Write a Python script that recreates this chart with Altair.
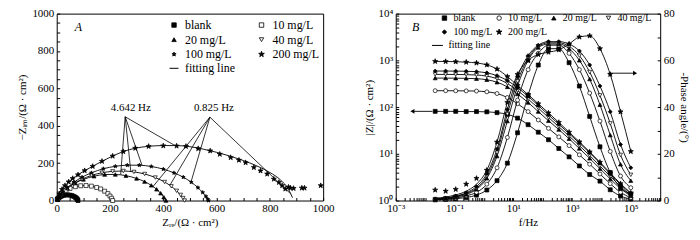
import altair as alt
import pandas as pd

FONT = "Liberation Serif"
SERIES = ["blank", "10 mg/L", "20 mg/L", "40 mg/L", "100 mg/L", "200 mg/L"]

STAR = ("M0,-1.35L0.317,-0.437L1.284,-0.417L0.513,0.167L0.794,1.092L0,0.54L-0.794,1.092"
        "L-0.513,0.167L-1.284,-0.417L-0.317,-0.437Z")
STAR_S = ("M0,-1L0.235,-0.324L0.951,-0.309L0.38,0.124L0.588,0.809L0,0.4L-0.588,0.809"
          "L-0.38,0.124L-0.951,-0.309L-0.235,-0.324Z")
SHAPES_A = ["square", "square", "triangle-up", "triangle-down", STAR_S, STAR]
SHAPES_B = ["square", "circle", "triangle-up", "triangle-down", "diamond", STAR]
FILLS = ["black", "white", "black", "white", "black", "black"]
STROKES = ["black"] * 6

# ---------------- Nyquist (panel A) ----------------
NYQ_BLANK_RE = [2, 5, 9, 14, 20, 27, 35, 43, 51, 58, 64, 69, 73, 76, 78, 80]
NYQ_BLANK_IM = [5, 11, 16, 21, 25, 28, 30, 30, 28.5, 26, 22, 18, 14, 9, 5, 0]
NYQ_10_RE = [3, 10, 20, 35, 50, 70, 90, 110, 130, 150, 165, 180, 192, 200, 206, 210]
NYQ_10_IM = [9, 24, 39, 54.5, 65, 74, 79, 80, 77, 70, 62, 50, 37, 24, 12, 0]
NYQ_20_RE = [3, 10, 20, 40, 70, 100, 140, 180, 220, 260, 300, 330, 355, 375, 390, 402, 410]
NYQ_20_IM = [7, 22, 39, 65.5, 94, 113, 130, 139, 139.5, 133, 118, 101, 81, 60, 39, 18, 0]
NYQ_40_RE = [3, 10, 22, 40, 65, 95, 130, 170, 210, 250, 290, 330, 370, 405, 430, 450, 465, 474, 480]
NYQ_40_IM = [7, 21, 41, 65, 91, 114, 134, 148.5, 156, 158, 153, 142, 123, 99, 76, 52, 30, 13, 0]
NYQ_100_RE = [3, 10, 22, 40, 65, 95, 130, 175, 220, 265, 310, 355, 400, 440, 475, 505, 530,
              548, 560, 567, 570]
NYQ_100_IM = [7, 22, 43, 69, 98, 125, 148, 170, 183, 189, 189, 182, 168, 148, 125, 98, 69,
              43, 22, 7, 0]
NYQ_200_RE = [3, 10, 20, 31, 45, 60, 80, 105, 135, 170, 210, 250, 295, 345, 400, 450, 485,
              531, 576, 612, 653, 684, 709, 740, 765, 790, 815, 834, 846, 858, 870, 877,
              889, 920, 930, 991]
NYQ_200_IM = [12, 35, 60, 80, 100, 118, 138, 160, 183, 210, 238, 262, 280, 290, 293, 292,
              290, 278, 266, 248, 230, 216, 203, 177, 159, 142, 115, 97, 80, 62, 72, 67,
              65, 67, 67, 80]
FIT_200_RE = [0, 3, 10, 20, 31, 45, 60, 80, 105, 135, 170, 210, 250, 295, 345, 400, 450,
              500, 550, 600, 650, 700, 750, 800, 840, 870, 885]
FIT_200_IM = [0, 12, 35, 60, 80, 100, 118, 138, 160, 183, 210, 238, 262, 280, 290, 294,
              294, 288, 275, 258, 238, 214, 186, 150, 110, 60, 15]

# annotation lines (apex -> points on curves)
ANN1_APEX = [257, 448]
ANN1_END_RE = [240, 278, 320, 445]
ANN1_END_IM = [139, 155, 189, 293]
ANN2_APEX = [575, 446]
ANN2_END_RE = [361, 425, 504, 878]
ANN2_END_IM = [74, 82, 99, 36]
ANN_TEXT = ["4.642 Hz", "0.825 Hz"]
ANN_TEXT_RE = [278, 590]
ANN_TEXT_IM = [497, 497]

# ---------------- Bode (panel B) ----------------
FREQ = [0.022, 0.05, 0.11, 0.25, 0.56, 1.26, 2.8, 6.3, 14, 32, 71, 158, 355, 794, 1778,
        3981, 8913, 19953, 44668, 100000]
Z_BLANK = [81, 81, 81, 80, 80, 79, 76, 70, 58, 42, 29, 20, 13, 8.6, 5.5, 3.6, 2.6, 1.7, 1.25, 1.08]
Z_10 = [224, 224, 223, 222, 220, 212, 195, 160, 118, 80, 53, 35, 23, 15, 9.5, 6, 3.7, 2.3, 1.5, 1.15]
Z_20 = [417, 417, 415, 412, 405, 385, 340, 270, 190, 125, 80, 51, 33, 21, 13, 8, 4.8, 2.9, 1.8, 1.25]
Z_40 = [500, 500, 498, 495, 485, 460, 405, 320, 225, 148, 95, 60, 38, 24, 15, 9.2, 5.5, 3.3, 2.0, 1.3]
Z_100 = [590, 590, 588, 584, 572, 540, 470, 370, 260, 170, 108, 68, 43, 27, 17, 10.5, 6.3, 3.7, 2.2, 1.4]
Z_200 = [950, 945, 935, 915, 880, 800, 650, 450, 290, 185, 118, 75, 47, 29, 18, 11, 6.6, 3.9, 2.3, 1.45]

PH_BLANK = [0.3, 0.5, 0.8, 1.3, 2.3, 4.5, 8.5, 16, 29, 45, 58, 65, 65, 59, 49, 36, 23, 12, 5.5, 2.8]
PH_10 = [0.4, 0.7, 1.1, 2, 3.5, 7, 14, 27, 43, 56, 63, 66.5, 66.5, 63, 56, 46, 34, 21, 10.5, 5.5]
PH_20 = [0.5, 0.9, 1.5, 2.6, 4.8, 9.5, 19, 34, 49, 60, 65.5, 67, 67, 65, 60, 52, 41, 28, 15.5, 8.5]
PH_40 = [0.6, 1.0, 1.7, 3, 5.3, 10.5, 20.5, 37, 51, 61, 66, 67.5, 67.5, 66, 62, 55, 45, 33, 19.5, 11]
PH_100 = [0.7, 1.1, 1.9, 3.3, 6, 11.5, 22, 39, 53, 62, 66.5, 68, 68, 67, 64, 58, 49, 38, 24, 14]
PH_200 = [1.0, 1.5, 2.4, 4, 7, 13, 25, 42, 54, 60, 62.5, 63.5, 64.5, 67, 70, 70.5, 65, 54, 38, 21]
PH_200_MARK = [4.5, 4.0, 4.8, 7.0, 9.5, 13, 25, 42, 54, 60, 62.5, 63.5, 64.5, 67, 70, 70.5, 65,
               54, 38, 21]

ARROW_Z_F = [0.0037, 0.0178]
ARROW_Z_V = [81, 81]
ARROW_P_F = [17000, 140000]
ARROW_P_V = [54.5, 54.5]

X_TICKS_A = list(range(0, 1001, 50))
Y_TICKS_A = list(range(0, 1001, 50))
F_TICKS = [m * 10.0 ** k for k in range(-3, 6) for m in range(1, 10)] + [1e6]
F_LABELS = {0.001: "10⁻³", 0.1: "10⁻¹", 10: "10¹", 1000: "10³", 100000: "10⁵"}
Z_TICKS = [m * 10.0 ** k for k in range(0, 4) for m in range(1, 10)] + [1e4]
Z_LABELS = {1: "10⁰", 10: "10¹", 100: "10²", 1000: "10³", 10000: "10⁴"}
P_TICKS = list(range(0, 81, 10))


def label_expr(mapping):
    expr = "''"
    for v, lab in sorted(mapping.items(), reverse=True):
        expr = f"(datum.value > {v * 0.999} && datum.value < {v * 1.001}) ? '{lab}' : {expr}"
    return expr


def long_df(pairs, xname, yname):
    rows = []
    for name, xs, ys in pairs:
        for a, b in zip(xs, ys):
            rows.append({"series": name, xname: a, yname: b})
    return pd.DataFrame(rows)


# ---- panel A data frames ----
nyq_pts = long_df([
    (SERIES[0], NYQ_BLANK_RE, NYQ_BLANK_IM), (SERIES[1], NYQ_10_RE, NYQ_10_IM),
    (SERIES[2], NYQ_20_RE, NYQ_20_IM), (SERIES[3], NYQ_40_RE, NYQ_40_IM),
    (SERIES[4], NYQ_100_RE, NYQ_100_IM), (SERIES[5], NYQ_200_RE, NYQ_200_IM)], "x", "y")
nyq_fit = long_df([
    (SERIES[0], NYQ_BLANK_RE, NYQ_BLANK_IM), (SERIES[1], NYQ_10_RE, NYQ_10_IM),
    (SERIES[2], NYQ_20_RE, NYQ_20_IM), (SERIES[3], NYQ_40_RE, NYQ_40_IM),
    (SERIES[4], NYQ_100_RE, NYQ_100_IM), (SERIES[5], FIT_200_RE, FIT_200_IM)], "x", "y")
nyq_fit["fit"] = "fitting line"

ann_rows = []
for i, (apex, ers, eis) in enumerate([(ANN1_APEX, ANN1_END_RE, ANN1_END_IM),
                                      (ANN2_APEX, ANN2_END_RE, ANN2_END_IM)]):
    for j, (a, b) in enumerate(zip(ers, eis)):
        seg = f"s{i}{j}"
        ann_rows.append({"seg": seg, "x": apex[0], "y": apex[1]})
        ann_rows.append({"seg": seg, "x": a, "y": b})
ann_df = pd.DataFrame(ann_rows)
ann_txt = pd.DataFrame({"x": ANN_TEXT_RE, "y": ANN_TEXT_IM, "t": ANN_TEXT})

axis_common = dict(offset=-3, tickSize=3, domain=False)

xA = alt.X("x:Q", scale=alt.Scale(domain=[0, 1000], nice=False),
           axis=alt.Axis(values=X_TICKS_A, format="d",
                         labelExpr="datum.value % 200 == 0 ? datum.label : ''",
                         title="Zᵣₑ/(Ω · cm²)", labelPadding=2, titlePadding=3,
                         **axis_common))
yA = alt.Y("y:Q", scale=alt.Scale(domain=[0, 1000], nice=False),
           axis=alt.Axis(values=Y_TICKS_A, format="d",
                         labelExpr="datum.value % 200 == 0 ? datum.label : ''",
                         title="−Zᵢₘ/(Ω · cm²)", labelPadding=3, titlePadding=4,
                         **axis_common))

legA = alt.Legend(title=None, orient="none", legendX=112, legendY=5.5, columns=2,
                  direction="horizontal",
                  columnPadding=24, rowPadding=2.7, symbolSize=20, gridAlign="all",
                  symbolStrokeWidth=0.8, labelOffset=5,
                  labelFont=FONT, labelFontSize=12)
legFitA = alt.Legend(title=None, orient="none", legendX=112, legendY=49,
                     symbolType="stroke", symbolSize=80, symbolStrokeWidth=1,
                     labelOffset=5, labelFont=FONT, labelFontSize=12)

fit_color_A = alt.Color("fit:N", scale=alt.Scale(domain=["fitting line"], range=["black"]),
                        legend=legFitA)

lineA = alt.Chart(nyq_fit).mark_line(interpolate="monotone", strokeWidth=0.9).encode(
    x=xA, y=yA, detail="series:N", color=fit_color_A)
ptsA = alt.Chart(nyq_pts).mark_point(opacity=1, size=16, strokeWidth=0.7).encode(
    x=xA, y=yA,
    shape=alt.Shape("series:N", scale=alt.Scale(domain=SERIES, range=SHAPES_A), legend=legA),
    fill=alt.Fill("series:N", scale=alt.Scale(domain=SERIES, range=FILLS), legend=legA),
    stroke=alt.Stroke("series:N", scale=alt.Scale(domain=SERIES, range=STROKES), legend=legA))
annA = alt.Chart(ann_df).mark_line(color="black", strokeWidth=0.8).encode(
    x=xA, y=yA, detail="seg:N")
annTA = alt.Chart(ann_txt).mark_text(fontSize=11, font=FONT, color="black").encode(
    x=xA, y=yA, text="t:N")
labA = alt.Chart(pd.DataFrame({"x": [81], "y": [929], "t": ["A"]})).mark_text(
    fontSize=12, font=FONT, fontStyle="italic", color="black").encode(x=xA, y=yA, text="t:N")

panelA = alt.layer(lineA, ptsA, annA, annTA, labA).properties(width=268, height=188)

# ---- panel B data frames ----
z_df = long_df([(SERIES[0], FREQ, Z_BLANK), (SERIES[1], FREQ, Z_10), (SERIES[2], FREQ, Z_20),
                (SERIES[3], FREQ, Z_40), (SERIES[4], FREQ, Z_100), (SERIES[5], FREQ, Z_200)],
               "f", "z")
z_fit = z_df.copy()
z_fit["fit"] = "fitting line"
p_pts = long_df([(SERIES[0], FREQ, PH_BLANK), (SERIES[1], FREQ, PH_10), (SERIES[2], FREQ, PH_20),
                 (SERIES[3], FREQ, PH_40), (SERIES[4], FREQ, PH_100),
                 (SERIES[5], FREQ, PH_200_MARK)], "f", "p")
p_fit = long_df([(SERIES[0], FREQ, PH_BLANK), (SERIES[1], FREQ, PH_10), (SERIES[2], FREQ, PH_20),
                 (SERIES[3], FREQ, PH_40), (SERIES[4], FREQ, PH_100),
                 (SERIES[5], FREQ, PH_200)], "f", "p")
p_fit["fit"] = "fitting line"

xB = alt.X("f:Q", scale=alt.Scale(type="log", domain=[0.001, 1e6], nice=False),
           axis=alt.Axis(values=F_TICKS, labelExpr=label_expr(F_LABELS), title="f/Hz",
                         labelPadding=2, titlePadding=3, **axis_common))
yZ = alt.Y("z:Q", scale=alt.Scale(type="log", domain=[1, 10000], nice=False),
           axis=alt.Axis(orient="left", values=Z_TICKS, labelExpr=label_expr(Z_LABELS),
                         title="|Z|/(Ω · cm²)", labelPadding=3, titlePadding=3,
                         **axis_common))
yP = alt.Y("p:Q", scale=alt.Scale(domain=[0, 80], nice=False),
           axis=alt.Axis(orient="right", values=P_TICKS, format="d",
                         labelExpr="datum.value % 20 == 0 ? datum.label : ''",
                         title="-Phase angle/(°)", labelPadding=3, titlePadding=4,
                         **axis_common))

legB = alt.Legend(title=None, orient="none", legendX=44, legendY=-0.5, columns=4,
                  direction="horizontal",
                  columnPadding=1, rowPadding=4, symbolSize=20, gridAlign="all",
                  symbolStrokeWidth=0.8, labelOffset=4,
                  labelFont=FONT, labelFontSize=10)
legFitB = alt.Legend(title=None, orient="none", legendX=36, legendY=26,
                     symbolType="stroke", symbolSize=120, symbolStrokeWidth=1,
                     labelOffset=5, labelFont=FONT, labelFontSize=10)
fit_color_B = alt.Color("fit:N", scale=alt.Scale(domain=["fitting line"], range=["black"]),
                        legend=legFitB)
shapeB = alt.Shape("series:N", scale=alt.Scale(domain=SERIES, range=SHAPES_B), legend=legB)
fillB = alt.Fill("series:N", scale=alt.Scale(domain=SERIES, range=FILLS), legend=legB)
strokeB = alt.Stroke("series:N", scale=alt.Scale(domain=SERIES, range=STROKES), legend=legB)

zLine = alt.Chart(z_fit).mark_line(interpolate="monotone", strokeWidth=0.9).encode(
    x=xB, y=yZ, detail="series:N", color=fit_color_B)
zPts = alt.Chart(z_df).mark_point(opacity=1, size=16, strokeWidth=0.7).encode(
    x=xB, y=yZ, shape=shapeB, fill=fillB, stroke=strokeB)
arrZ = alt.Chart(pd.DataFrame({"f": ARROW_Z_F, "z": ARROW_Z_V})).mark_line(
    color="black", strokeWidth=0.9).encode(x=xB, y=yZ)
arrZH = alt.Chart(pd.DataFrame({"f": ARROW_Z_F[:1], "z": ARROW_Z_V[:1]})).mark_point(
    shape="triangle-left", filled=True, color="black", opacity=1, size=22).encode(x=xB, y=yZ)
labB = alt.Chart(pd.DataFrame({"f": [0.0048], "z": [5200], "t": ["B"]})).mark_text(
    fontSize=12, font=FONT, fontStyle="italic", color="black").encode(x=xB, y=yZ, text="t:N")

pLine = alt.Chart(p_fit).mark_line(interpolate="monotone", strokeWidth=0.9).encode(
    x=xB, y=yP, detail="series:N", color=fit_color_B)
pPts = alt.Chart(p_pts).mark_point(opacity=1, size=16, strokeWidth=0.7).encode(
    x=xB, y=yP, shape=shapeB, fill=fillB, stroke=strokeB)
arrP = alt.Chart(pd.DataFrame({"f": ARROW_P_F, "p": ARROW_P_V})).mark_line(
    color="black", strokeWidth=0.9).encode(x=xB, y=yP)
arrPH = alt.Chart(pd.DataFrame({"f": ARROW_P_F[1:], "p": ARROW_P_V[1:]})).mark_point(
    shape="triangle-right", filled=True, color="black", opacity=1, size=22).encode(x=xB, y=yP)

leftB = alt.layer(zLine, zPts, arrZ, arrZH, labB)
rightB = alt.layer(pLine, pPts, arrP, arrPH)
panelB = alt.layer(leftB, rightB).resolve_scale(y="independent").properties(width=266, height=188)

chart = alt.hconcat(panelA, panelB, spacing=28).resolve_scale(
    shape="independent", fill="independent", stroke="independent", color="independent"
).resolve_legend(shape="independent", fill="independent", stroke="independent",
                 color="independent").properties(
    padding={"left": 8, "top": -2, "right": 2, "bottom": 2}
).configure_view(stroke="black", strokeWidth=1).configure_axis(
    labelFont=FONT, titleFont=FONT, labelFontSize=11, titleFontSize=11,
    labelColor="black", titleColor="black", tickColor="black", grid=False,
    titleFontWeight="normal", labelFlush=False, labelOverlap=False
).configure_legend(labelFont=FONT, labelFontSize=11, labelColor="black").configure_text(font=FONT)

chart.save("out.html", embed_options={"renderer": "svg", "actions": False})
